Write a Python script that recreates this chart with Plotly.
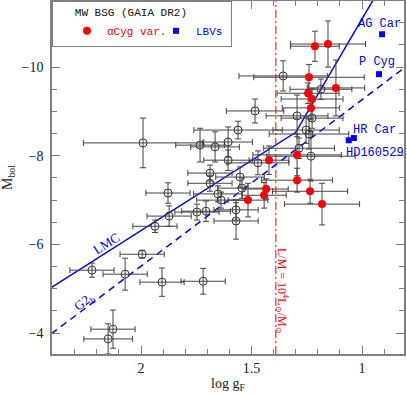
import plotly.graph_objects as go

# ---- data ----
open_logg = [1.991, 1.733, 1.665, 1.606, 1.561, 1.484, 1.357, 1.294, 1.226, 1.186,
             1.240, 1.253, 1.285, 1.231, 1.606, 1.471, 1.688, 1.688, 1.552, 1.543,
             1.878, 1.652, 1.638, 1.747, 1.706, 1.570, 1.570, 1.873, 1.937, 1.995,
             2.222, 2.072, 1.905, 1.719, 2.127, 2.149]
open_mbol = [-8.29, -8.24, -8.20, -8.31, -8.58, -9.01, -9.80, -8.90, -8.85, -9.50,
             -8.49, -8.58, -8.17, -7.99, -7.90, -7.84, -7.61, -7.38, -7.52, -7.27,
             -7.16, -7.14, -7.00, -6.73, -6.75, -6.78, -6.53, -6.64, -6.41, -5.78,
             -5.42, -5.33, -5.15, -5.17, -4.09, -3.87]
open_logg_err = [0.27, 0.11, 0.11, 0.11, 0.20, 0.13, 0.20, 0.14, 0.14, 0.14,
                 0.18, 0.15, 0.16, 0.20, 0.11, 0.14, 0.10, 0.10, 0.11, 0.11,
                 0.10, 0.11, 0.11, 0.10, 0.11, 0.10, 0.10, 0.10, 0.10, 0.10,
                 0.10, 0.10, 0.10, 0.10, 0.10, 0.11]
open_mbol_err = [0.56, 0.38, 0.34, 0.34, 0.20, 0.27, 0.34, 0.47, 0.23, 0.23,
                 0.34, 0.30, 0.23, 0.56, 0.23, 0.27, 0.18, 0.18, 0.23, 0.23,
                 0.23, 0.18, 0.18, 0.18, 0.23, 0.23, 0.41, 0.23, 0.14, 0.09,
                 0.16, 0.36, 0.32, 0.29, 0.43, 0.34]

acyg_logg = [1.213, 1.154, 1.240, 1.118, 1.244, 1.226, 1.231, 1.294, 1.421, 1.294,
             1.235, 1.181, 1.434, 1.443, 1.516]
acyg_mbol = [-10.47, -10.52, -9.77, -9.53, -9.41, -9.28, -9.08, -8.02, -7.90, -7.45,
             -7.20, -6.91, -7.25, -7.11, -7.00]
acyg_logg_err = [0.11, 0.17, 0.25, 0.13, 0.14, 0.14, 0.13, 0.20, 0.09, 0.16,
                 0.17, 0.17, 0.10, 0.10, 0.09]
acyg_mbol_err = [0.34, 0.52, 0.29, 0.63, 0.23, 0.23, 0.27, 0.47, 0.32, 0.27,
                 0.27, 0.47, 0.23, 0.29, 0.38]

lbv_names = ["AG Car", "P Cyg", "HR Car", "HD160529"]
lbv_logg = [0.909, 0.923, 1.037, 1.060]
lbv_mbol = [-10.74, -9.84, -8.40, -8.35]

lmc_logg = [2.45, 1.30, 0.93]
lmc_mbol = [-4.89, -8.53, -11.68]
g2b_logg = [2.45, 0.78]
g2b_mbol = [-3.82, -10.09]
lm_logg = 1.39

x_ticks = [2, 1.5, 1]
y_ticks = [-10, -8, -6, -4]

SERIF = "Liberation Serif"
MONO = "Liberation Mono"
ERRC = "#444444"
FRAME = "#808080"

fig = go.Figure()

fig.add_trace(go.Scatter(x=lmc_logg, y=lmc_mbol, mode="lines",
                         line=dict(color="#0000ff", width=1.5), showlegend=False))
fig.add_trace(go.Scatter(x=g2b_logg, y=g2b_mbol, mode="lines",
                         line=dict(color="#0000ff", width=1.5, dash="7px,5px"), showlegend=False))

fig.add_trace(go.Scatter(
    x=open_logg, y=open_mbol, mode="markers", showlegend=False,
    marker=dict(symbol="circle-open", size=8, color="#333333", line=dict(width=1)),
    error_x=dict(type="data", array=open_logg_err, color=ERRC, thickness=1, width=3),
    error_y=dict(type="data", array=open_mbol_err, color=ERRC, thickness=1, width=3)))

fig.add_trace(go.Scatter(
    x=acyg_logg, y=acyg_mbol, mode="markers", showlegend=False,
    marker=dict(symbol="circle", size=8, color="#ff0000"),
    error_x=dict(type="data", array=acyg_logg_err, color=ERRC, thickness=1, width=3),
    error_y=dict(type="data", array=acyg_mbol_err, color=ERRC, thickness=1, width=3)))

fig.add_trace(go.Scatter(
    x=lbv_logg, y=lbv_mbol, mode="markers", showlegend=False,
    marker=dict(symbol="square", size=6, color="#0000ff")))

# legend-only entries
fig.add_trace(go.Scatter(x=[None], y=[None], mode="markers",
                         name="<span style='color:#ff0000'>αCyg var.</span>",
                         marker=dict(symbol="circle", size=8, color="#ff0000")))
fig.add_trace(go.Scatter(x=[None], y=[None], mode="markers",
                         name="<span style='color:#0000ff'>LBVs</span>&nbsp;&nbsp;",
                         marker=dict(symbol="square", size=6, color="#0000ff")))

fig.add_shape(type="line", x0=lm_logg, x1=lm_logg, y0=0, y1=1, xref="x", yref="paper",
              line=dict(color="#ff0000", width=1, dash="8px,3px,2px,3px"))

annos = [
    dict(x=1.362, y=-4.95, text="L/M = 10<sup>4</sup>L<sub>⊙</sub>/M<sub>⊙</sub>",
         textangle=90, font=dict(family=SERIF, size=12, color="#ff0000")),
    dict(x=2.158, y=-6.03, text="LMC", textangle=-32,
         font=dict(family=SERIF, size=13, color="#0000ff")),
    dict(x=2.258, y=-4.70, text="G2<sub>b</sub>", textangle=-37,
         font=dict(family=SERIF, size=13, color="#0000ff")),
]
lbv_label_pos = [(0.919, -10.97), (0.932, -10.11), (0.943, -8.58), (0.941, -8.06)]
for nm, (lx, ly) in zip(lbv_names, lbv_label_pos):
    annos.append(dict(x=lx, y=ly, text=nm, font=dict(family=MONO, size=12, color="#0000ff")))
for a in annos:
    a.update(xref="x", yref="y", showarrow=False)
    fig.add_annotation(**a)

axis_common = dict(
    showline=True, linecolor=FRAME, linewidth=1.5, mirror="allticks",
    ticks="inside", ticklen=8, tickcolor=FRAME, tickwidth=1,
    showgrid=False, zeroline=False,
    tickfont=dict(family=SERIF, size=14, color="#222222"),
)

fig.update_xaxes(range=[2.403, 0.81], tickvals=x_ticks, ticktext=["2", "1.5", "1"],
                 minor=dict(dtick=0.1, ticks="inside", ticklen=5, tickcolor=FRAME, showgrid=False),
                 title=dict(text="log g<sub>F</sub>", font=dict(family=SERIF, size=14, color="#222222"),
                            standoff=4),
                 **axis_common)
fig.update_yaxes(range=[-3.53, -11.49], tickvals=y_ticks, ticktext=["−10", "−8", "−6", "−4"],
                 minor=dict(dtick=0.5, ticks="inside", ticklen=5, tickcolor=FRAME, showgrid=False),
                 title=dict(text="M<sub>bol</sub>", font=dict(family=SERIF, size=14, color="#222222"),
                            standoff=6),
                 ticklabelstandoff=4,
                 **axis_common)

fig.update_layout(
    width=407, height=394,
    margin=dict(l=52, r=3, t=1, b=40, autoexpand=False),
    plot_bgcolor="white", paper_bgcolor="white",
    showlegend=True,
    legend=dict(x=0, y=1, xanchor="left", yanchor="top", orientation="h",
                entrywidth=30, indentation=14,
                title=dict(text="&nbsp;&nbsp;&nbsp;MW BSG (GAIA DR2)", side="top",
                           font=dict(family=MONO, size=11, color="#111111")),
                font=dict(family=MONO, size=11),
                bgcolor="white", bordercolor=FRAME, borderwidth=1),
)

fig.write_html("out.html", config={"displayModeBar": False},
               post_script="document.body.style.margin='0px';document.body.style.padding='0px';")
